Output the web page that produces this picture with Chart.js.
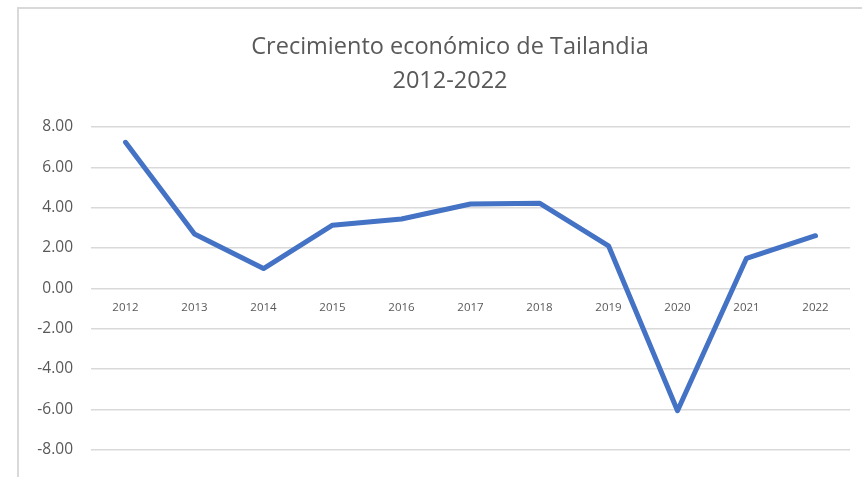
<!DOCTYPE html>
<html>
<head>
<meta charset="utf-8">
<script src="https://cdn.jsdelivr.net/npm/chart.js@4/dist/chart.umd.min.js"></script>
<style>
  html, body { margin: 0; padding: 0; background: #ffffff; }
  #wrap { position: relative; width: 862px; height: 477px; }
</style>
</head>
<body>
<div id="wrap"><canvas id="c" width="862" height="477"></canvas></div>
<script>
const titleLines = ['Crecimiento económico de Tailandia', '2012-2022'];
const years = ['2012', '2013', '2014', '2015', '2016', '2017', '2018', '2019', '2020', '2021', '2022'];
const growth = [7.24, 2.69, 0.98, 3.13, 3.44, 4.18, 4.22, 2.11, -6.07, 1.49, 2.61];
const yMin = -8, yMax = 8, yStep = 2;

const FONT = '"Open Sans", "DejaVu Sans", sans-serif';
const TEXT = '#595959';

const framePlugin = {
  id: 'frame',
  beforeDraw(chart) {
    const ctx = chart.ctx;
    ctx.save();
    ctx.strokeStyle = '#d9d9d9';
    ctx.lineWidth = 2;
    ctx.beginPath();
    ctx.moveTo(18, 477);
    ctx.lineTo(18, 8);
    ctx.lineTo(862, 8);
    ctx.stroke();
    ctx.restore();
  }
};

const titlePlugin = {
  id: 'titleText',
  afterDraw(chart) {
    const ctx = chart.ctx;
    ctx.save();
    ctx.fillStyle = TEXT;
    ctx.font = '23.5px ' + FONT;
    ctx.textAlign = 'center';
    ctx.textBaseline = 'alphabetic';
    ctx.fillText(titleLines[0], 450, 54);
    ctx.fillText(titleLines[1], 450, 88);
    ctx.restore();
  }
};

new Chart(document.getElementById('c'), {
  type: 'line',
  data: {
    labels: years,
    datasets: [{
      label: 'Crecimiento',
      data: growth,
      borderColor: '#4472C4',
      backgroundColor: '#4472C4',
      borderWidth: 5,
      borderJoinStyle: 'round',
      borderCapStyle: 'round',
      pointRadius: 0,
      pointHoverRadius: 0,
      tension: 0,
      fill: false
    }]
  },
  options: {
    responsive: false,
    animation: false,
    events: [],
    layout: { padding: { top: 127, bottom: 25, left: 0, right: 12 } },
    plugins: {
      legend: { display: false },
      title: { display: false },
      tooltip: { enabled: false }
    },
    scales: {
      x: {
        type: 'category',
        position: { y: 0 },
        offset: true,
        grid: { display: false, drawTicks: false },
        border: { display: false },
        ticks: {
          color: TEXT,
          font: { family: FONT, size: 11.5 },
          padding: 12,
          maxRotation: 0,
          autoSkip: false
        }
      },
      y: {
        min: yMin,
        max: yMax,
        afterFit(scale) { scale.width = 91; },
        grid: { color: '#d9d9d9', lineWidth: 1.5, drawTicks: false },
        border: { display: false },
        ticks: {
          stepSize: yStep,
          color: TEXT,
          font: { family: FONT, size: 15.5 },
          padding: 18,
          callback: v => Number(v).toFixed(2)
        }
      }
    }
  },
  plugins: [framePlugin, titlePlugin]
});
</script>
</body>
</html>
